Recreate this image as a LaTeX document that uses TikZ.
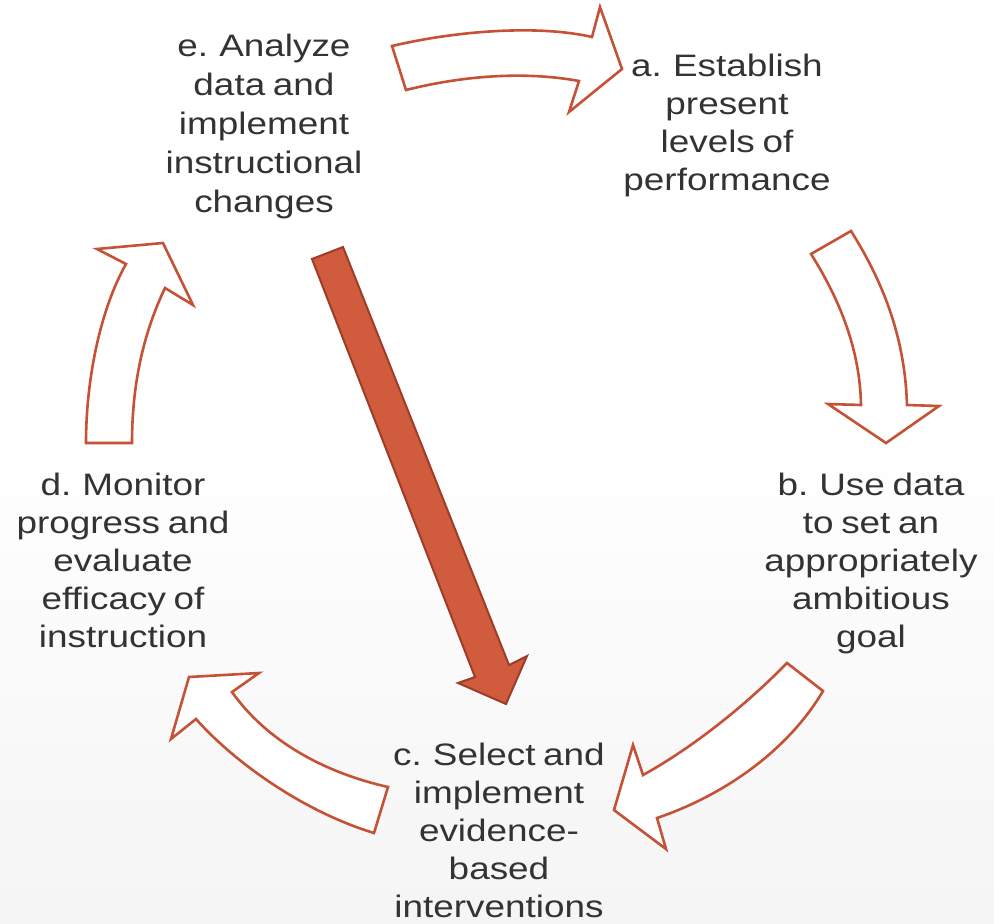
\documentclass[tikz,border=0pt]{standalone}
\usepackage{fontspec}
\setmainfont{Liberation Sans}[FakeStretch=1.19, WordSpace=0.75]
\begin{document}
\begin{tikzpicture}[x=1pt,y=-1pt,
  label text/.style={inner sep=0pt, anchor=north, align=center,
    text=txtgray, font=\fontsize{31}{38}\selectfont},
  ring arrow/.style={draw=ringred, fill=white, line width=2.6pt, line join=miter},
  main arrow/.style={draw=darkred, fill=mainred, line width=2pt, line join=miter}]
\definecolor{txtgray}{RGB}{51,51,51}
\definecolor{ringred}{RGB}{197,82,55}
\definecolor{mainred}{RGB}{208,91,61}
\definecolor{darkred}{RGB}{158,60,40}
\newcommand\firstline{\rule{0pt}{25pt}}

% page and soft gradient towards the bottom
\fill[white] (0,0) rectangle (994,924);
\shade[top color=white, bottom color=black!4] (0,430) rectangle (994,924);
\useasboundingbox (0,0) rectangle (994,924);

% step labels (north anchor sits 25pt above the first baseline)
\node[label text, font=\fontsize{31}{39}\selectfont] (ne) at (264,31)
  {\firstline e. Analyze\\data and\\implement\\instructional\\changes};
\node[label text] (na) at (727,51)
  {\firstline a. Establish\\present\\levels of\\performance};
\node[label text] (nb) at (871,470)
  {\firstline b. Use data\\to set an\\appropriately\\ambitious\\goal};
\node[label text] (nc) at (499,740)
  {\firstline c. Select and\\implement\\evidence-\\based\\interventions};
\node[label text] (nd) at (123,470)
  {\firstline d. Monitor\\progress and\\evaluate\\efficacy of\\instruction};

% curved arrow e -> a
\draw[ring arrow] (392,46) .. controls (460,30) and (540,25) .. (592,37)
  -- (600,7) -- (622,69) -- (569,112) -- (579,81)
  .. controls (530,72) and (470,74) .. (406,90) -- cycle;

% curved arrow a -> b
\draw[ring arrow] (811,254) .. controls (840,300) and (860,350) .. (861,405)
  -- (828,404) -- (886,443) -- (939,406) -- (907,405)
  .. controls (905,340) and (885,285) .. (851,231) -- cycle;

% curved arrow b -> c
\draw[ring arrow] (787,663) .. controls (745,706) and (692,748) .. (643,775)
  -- (633,745) -- (614,810) -- (666,849) -- (657,818)
  .. controls (722,796) and (787,752) .. (823,691) -- cycle;

% curved arrow c -> d
\draw[ring arrow] (388,787) .. controls (322,772) and (266,740) .. (232,692)
  -- (259,673) -- (189,677) -- (171,739) -- (196,719)
  .. controls (236,764) and (305,812) .. (374,833) -- cycle;

% curved arrow d -> e
\draw[ring arrow] (86,443) -- (132,443)
  .. controls (132,380) and (145,330) .. (165,288)
  -- (193,305) -- (163,243) -- (97,249) -- (126,264)
  .. controls (100,310) and (86,380) .. (86,443) -- cycle;

% straight arrow e -> c
\draw[main arrow] (312,259) -- (343,247) -- (509,665) -- (527,656)
  -- (506,704) -- (458,683) -- (475,677) -- cycle;
\end{tikzpicture}
\end{document}
